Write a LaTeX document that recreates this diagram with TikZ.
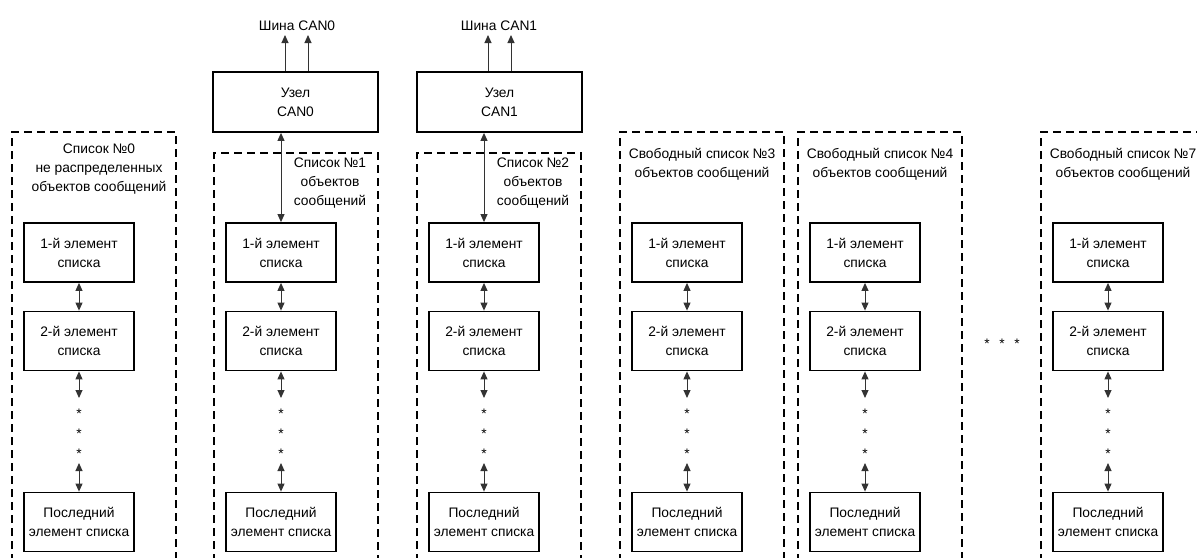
\documentclass[tikz,border=0pt]{standalone}
\usepackage{fontspec}
\setmainfont{Liberation Sans}
\usetikzlibrary{arrows.meta}
\tikzset{
  elem/.style={draw=black, line width=1.8pt, minimum width=110pt, minimum height=59pt, align=center, inner sep=2pt},
  canbox/.style={draw=black, line width=1.8pt, minimum width=165pt, minimum height=60pt, align=center, inner sep=2pt},
  dbox/.style={draw=black, line width=2pt, dash pattern=on 8pt off 5pt},
  conn/.style={<->, >={Triangle[length=8pt,width=7pt]}, line width=1pt, draw=black!80},
  bus/.style={->, >={Triangle[length=8pt,width=7pt]}, line width=1pt, draw=black!80},
  lbl/.style={align=center, inner sep=0pt},
  starnode/.style={inner sep=0pt, font=\fontsize{13.8}{19}\selectfont}
}
\begin{document}
\begin{tikzpicture}[x=1pt, y=-1pt, font=\fontsize{13.8}{19}\selectfont]
\useasboundingbox (0,0) rectangle (1197,557);
\clip (0,0) rectangle (1197,557);
\fill[white] (0,0) rectangle (1197,557);

\foreach \i/\L/\T in {0/12/132, 1/214/153, 2/417/153, 3/620/132, 4/798/132, 7/1041/132} {
  \pgfmathsetmacro\cx{\L+67}
  \node[elem] (ea\i) at (\cx,252.5) {1-й элемент\\списка};
  \node[elem] (eb\i) at (\cx,341) {2-й элемент\\списка};
  \node[elem] (ec\i) at (\cx,522) {Последний\\элемент списка};
  \node[starnode] (sa\i) at (\cx,414) {*};
  \node[starnode] (sb\i) at (\cx,434) {*};
  \node[starnode] (sc\i) at (\cx,454) {*};
  \coordinate (da\i) at (\cx,398);
  \coordinate (db\i) at (\cx,463);
  \draw[conn] (ea\i) -- (eb\i);
  \draw[conn] (eb\i.south) -- (da\i);
  \draw[conn] (db\i) -- (ec\i.north);
  \draw[dbox] (\L,562) -- (\L,\T) -- ({\L+164},\T) -- ({\L+164},562);
}

% list labels
\node[lbl] (l0) at (99,169) {Список №0\\не распределенных\\объектов сообщений};
\node[lbl] (l1) at (330,183) {Список №1\\объектов\\сообщений};
\node[lbl] (l2) at (533,183) {Список №2\\объектов\\сообщений};
\node[lbl] (l3) at (702,164) {Свободный список №3\\объектов сообщений};
\node[lbl] (l4) at (880,164) {Свободный список №4\\объектов сообщений};
\node[lbl] (l7) at (1123,164) {Свободный список №7\\объектов сообщений};

% CAN nodes
\node[canbox] (can0) at (295.5,102) {Узел\\CAN0};
\node[canbox] (can1) at (499.5,102) {Узел\\CAN1};
\draw[conn] (ea1.north) -- (ea1.north |- can0.south);
\draw[conn] (ea2.north) -- (ea2.north |- can1.south);

\coordinate (b0a) at (285,35);
\coordinate (b0b) at (308,35);
\coordinate (b1a) at (488,35);
\coordinate (b1b) at (511,35);
\draw[bus] (b0a |- can0.north) -- (b0a);
\draw[bus] (b0b |- can0.north) -- (b0b);
\draw[bus] (b1a |- can1.north) -- (b1a);
\draw[bus] (b1b |- can1.north) -- (b1b);
\node[lbl] (bus0) at (297,26) {Шина CAN0};
\node[lbl] (bus1) at (499,26) {Шина CAN1};

% horizontal ellipsis
\node[starnode] (h1) at (987,344) {*};
\node[starnode] (h2) at (1002,344) {*};
\node[starnode] (h3) at (1017,344) {*};
\end{tikzpicture}
\end{document}
